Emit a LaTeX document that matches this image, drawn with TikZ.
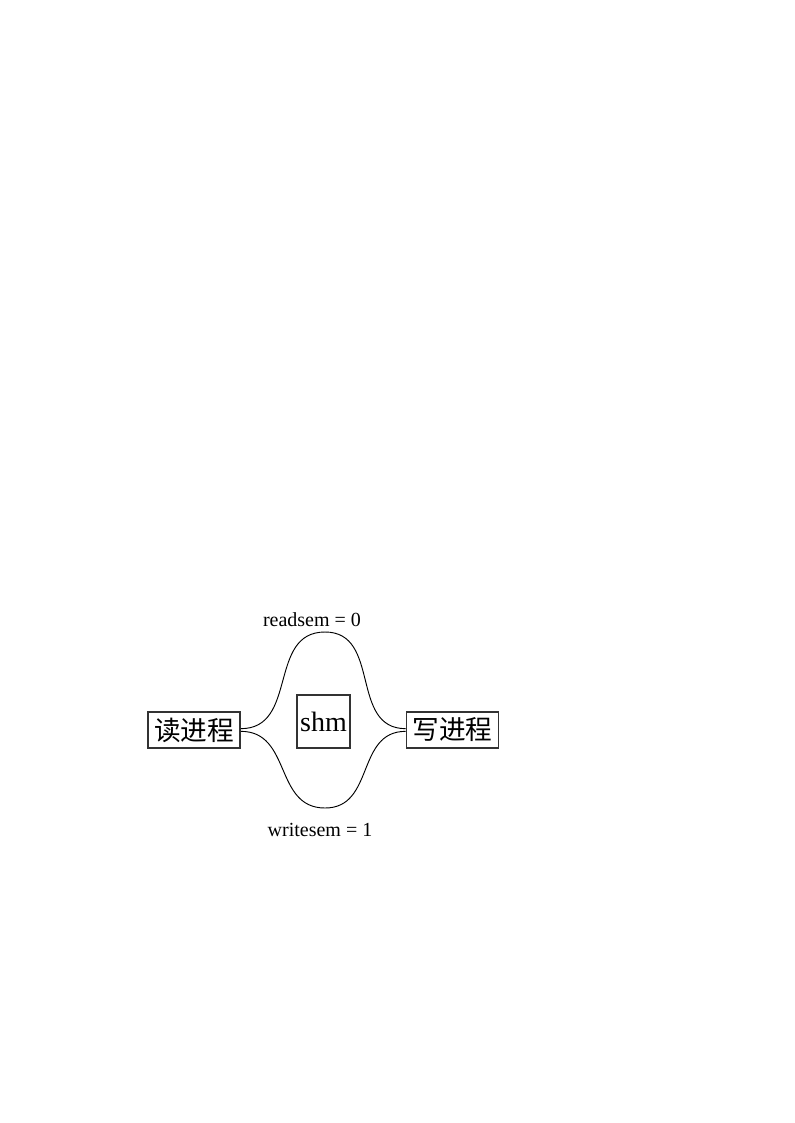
\documentclass[tikz,border=0pt]{standalone}
\usepackage{fontspec}
\setmainfont{Liberation Serif}
\newfontfamily\cjk{Noto Sans CJK SC}
\usetikzlibrary{positioning}

\begin{document}
\begin{tikzpicture}
            [x=0.75pt, y=-0.75pt,
            border/.style={draw=black!80, line width=1.2pt},
            proc/.style={border, font=\cjk\fontsize{20}{24}\selectfont, inner sep=0pt, minimum width=69pt, minimum height=27pt},
            mem/.style={border, font=\fontsize{21}{24}\selectfont, inner sep=0pt, minimum width=40pt, minimum height=40pt},
            sem/.style={font=\fontsize{15}{18}\selectfont},
            link/.style={line width=0.7pt, looseness=1.15},
            ]
            \useasboundingbox (0,0) rectangle (794,1123);
            % processes
            \node[proc] (R) at (194,730) {读进程};
            \node[proc] (W) at (452.5,730) {写进程};
            \node[mem] (S) at (323.5,721.5) {shm};
            % peaks of the two links
            \coordinate (T) at (325,632);
            \coordinate (B) at (325,808);
            \node[sem] (RS) at (312,620) {readsem = 0};
            \node[sem] (WS) at (320,830) {writesem = 1};

            \draw[link] ([yshift=1pt]R.east) to[out=0, in=180] (T) to[out=0, in=180] ([yshift=1pt]W.west);
            \draw[link] ([yshift=-1pt]R.east) to[out=0, in=180] (B) to[out=0, in=180] ([yshift=-1pt]W.west);
        \end{tikzpicture}
\end{document}
